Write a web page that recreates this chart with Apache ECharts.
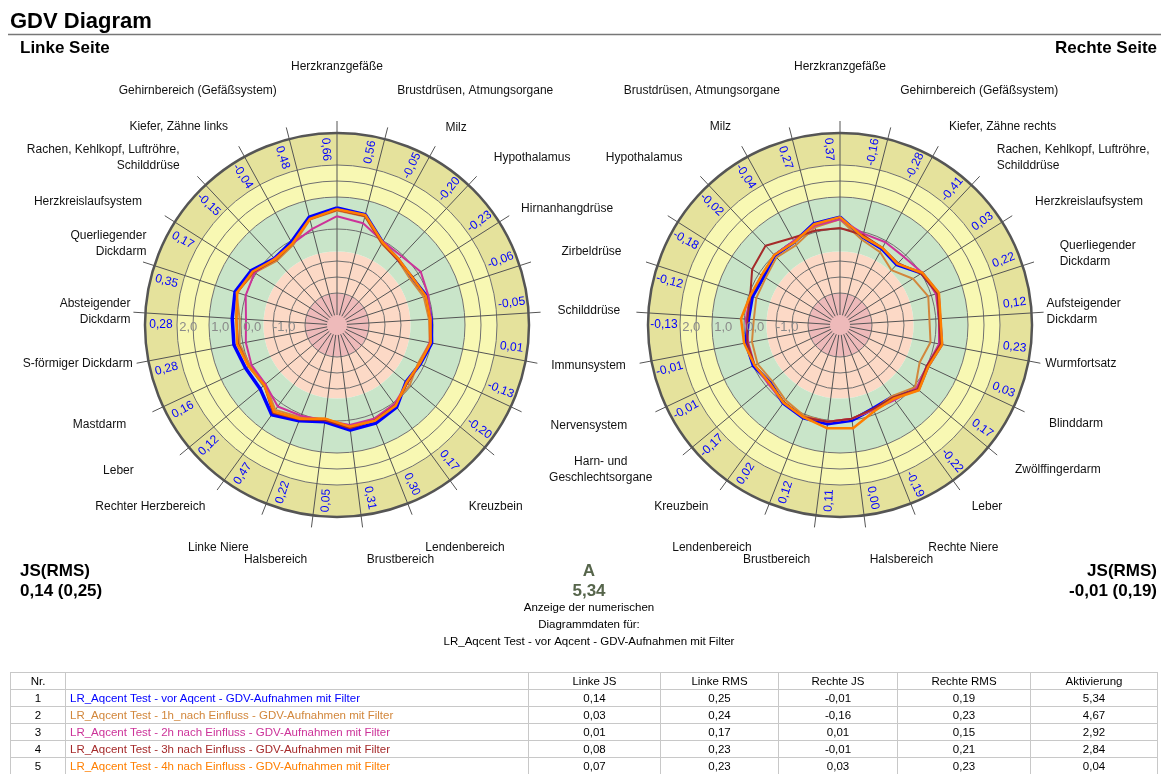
<!DOCTYPE html>
<html>
<head>
<meta charset="utf-8">
<title>GDV Diagram</title>
<script src="https://cdn.jsdelivr.net/npm/echarts@6/dist/echarts.min.js"></script>
<style>
  html, body { margin: 0; padding: 0; background: #fff; }
  #chart { position: absolute; left: 0; top: 0; width: 1161px; height: 774px; }
  #tbl { position: absolute; left: 10px; top: 672px; border-collapse: collapse;
         font: 11.5px "Liberation Sans", Arial, sans-serif; table-layout: fixed; }
  #tbl td { border: 1px solid #c8c8c8; height: 16px; padding: 0 4px; text-align: center;
            white-space: nowrap; overflow: hidden; line-height: 15px; }
  #tbl td.name { text-align: left; }
</style>
</head>
<body>
<div id="chart"></div>
<table id="tbl"></table>
<script>
// organ labels per spoke, clockwise from top ('' = no label on that side)
const leftLabels = ['Herzkranzgefäße', 'Brustdrüsen, Atmungsorgane', 'Milz', 'Hypothalamus',
  'Hirnanhangdrüse', 'Zirbeldrüse', 'Schilddrüse', 'Immunsystem', 'Nervensystem',
  'Harn- und\nGeschlechtsorgane', 'Kreuzbein', 'Lendenbereich', 'Brustbereich', 'Halsbereich',
  'Linke Niere', 'Rechter Herzbereich', 'Leber', 'Mastdarm', 'S-förmiger Dickdarm',
  'Absteigender\nDickdarm', 'Querliegender\nDickdarm', 'Herzkreislaufsystem',
  'Rachen, Kehlkopf, Luftröhre,\nSchilddrüse', 'Kiefer, Zähne links', 'Gehirnbereich (Gefäßsystem)'];
const rightLabels = ['Herzkranzgefäße', 'Gehirnbereich (Gefäßsystem)', 'Kiefer, Zähne rechts',
  'Rachen, Kehlkopf, Luftröhre,\nSchilddrüse', 'Herzkreislaufsystem', 'Querliegender\nDickdarm',
  'Aufsteigender\nDickdarm', 'Wurmfortsatz', 'Blinddarm', 'Zwölffingerdarm', 'Leber',
  'Rechte Niere', 'Halsbereich', 'Brustbereich', 'Lendenbereich', 'Kreuzbein',
  '', '', '', '', '', '', 'Hypothalamus', 'Milz', 'Brustdrüsen, Atmungsorgane'];

const seriesNames = [
  'LR_Aqcent Test - vor Aqcent - GDV-Aufnahmen mit Filter',
  'LR_Aqcent Test - 1h_nach Einfluss - GDV-Aufnahmen mit Filter',
  'LR_Aqcent Test - 2h nach Einfluss - GDV-Aufnahmen mit Filter',
  'LR_Aqcent Test - 3h nach Einfluss - GDV-Aufnahmen mit Filter',
  'LR_Aqcent Test - 4h nach Einfluss - GDV-Aufnahmen mit Filter'];
const seriesColors = ['#0000ff', '#d2873c', '#cc3399', '#a52a2a', '#ff7f00'];
const seriesWidths = [3.5, 2, 2, 2, 2.5];

// left side, clockwise from top
const left1 = [0.66, 0.56, -0.05, -0.20, -0.23, -0.06, -0.05, 0.01, -0.13, -0.20, 0.17, 0.30, 0.31,
  0.05, 0.22, 0.47, 0.12, 0.16, 0.28, 0.28, 0.35, 0.17, -0.15, -0.04, 0.48];
const left2 = [0.58, 0.50, -0.10, -0.22, -0.30, -0.15, -0.12, -0.05, -0.20, -0.05, 0.05, 0.15, 0.20,
  -0.05, 0.10, 0.28, -0.10, 0.00, 0.10, 0.05, 0.30, 0.05, -0.25, -0.15, 0.40];
const left3 = [0.40, 0.28, -0.02, -0.05, 0.10, 0.00, -0.05, -0.05, -0.15, -0.15, 0.05, 0.15, 0.15,
  0.00, 0.05, 0.15, -0.10, -0.05, -0.10, -0.15, 0.00, 0.05, -0.15, -0.10, 0.10];
const left4 = [0.60, 0.52, -0.08, -0.22, -0.20, -0.08, -0.08, -0.02, -0.15, -0.15, 0.10, 0.20, 0.25,
  0.00, 0.18, 0.40, -0.05, 0.05, 0.15, 0.15, 0.28, 0.10, -0.20, -0.10, 0.42];
const left5 = [0.62, 0.55, -0.05, -0.18, -0.22, -0.08, -0.08, -0.02, -0.15, -0.18, 0.12, 0.22, 0.20,
  -0.05, 0.15, 0.35, -0.05, 0.05, 0.18, 0.15, 0.28, 0.12, -0.18, -0.10, 0.42];

// right side, clockwise from top
const right1 = [0.37, -0.16, -0.28, -0.41, 0.03, 0.22, 0.12, 0.23, 0.03, 0.17, -0.22, -0.19, 0.00,
  0.11, 0.12, 0.02, -0.17, -0.01, -0.01, -0.13, -0.12, -0.18, -0.02, -0.04, 0.27];
const right2 = [0.30, -0.25, -0.40, -0.65, -0.30, -0.10, -0.20, -0.12, -0.25, 0.05, -0.25, -0.15, -0.05,
  0.05, 0.05, -0.10, -0.25, -0.15, -0.20, -0.30, -0.25, -0.25, -0.10, -0.15, 0.15];
const right3 = [0.30, -0.05, -0.05, -0.08, 0.05, 0.15, 0.10, 0.15, 0.00, 0.10, -0.10, -0.15, -0.05,
  0.05, 0.10, 0.00, -0.10, -0.05, -0.08, -0.05, -0.05, -0.10, 0.00, 0.00, 0.20];
const right4 = [0.03, -0.10, -0.25, -0.35, 0.00, 0.20, 0.10, 0.20, 0.00, 0.15, -0.20, -0.18, -0.05,
  0.05, 0.10, -0.02, -0.15, -0.05, -0.05, -0.10, -0.05, 0.25, 0.40, 0.10, 0.05];
const right5 = [0.37, -0.15, -0.25, -0.38, 0.05, 0.25, 0.15, 0.25, 0.05, 0.20, -0.15, -0.10, 0.25,
  0.25, 0.10, 0.00, -0.15, -0.05, 0.05, 0.10, -0.05, -0.10, 0.00, -0.05, 0.25];

const leftSeries = [left1, left2, left3, left4, left5];
const rightSeries = [right1, right2, right3, right4, right5];

const linkeJS = [0.14, 0.03, 0.01, 0.08, 0.07];
const linkeRMS = [0.25, 0.24, 0.17, 0.23, 0.23];
const rechteJS = [-0.01, -0.16, 0.01, -0.01, 0.03];
const rechteRMS = [0.19, 0.23, 0.15, 0.21, 0.23];
const aktivierung = [5.34, 4.67, 2.92, 2.84, 0.04];

const scaleTicks = [2, 1, 0, -1];
const gridCircles = [-2, -1.5, -1, 0, 1, 1.5, 2];
const bandEdges = [-3, -2, -0.7, 1, 2, 3];
const bandColors = ['#eebaba', '#fcd9c6', '#c9e5c9', '#f8f8b3', '#e5e29c'];

// label layout (pixel distance from centre, angle nudges in degrees, alignment overrides)
const leftLabelR = [258, 242, 225, 229, 218, 236, 221, 218, 236, 301, 224, 240, 237, 237, 240, 224,
  250, 233, 208, 207, 207, 231, 230, 226, 242];
const leftLabelNudge = { 9: -10.8, 16: 4, 20: 5 };
const leftLabelAlign = { 9: 'center' };
const rightLabelR = [258, 242, 226, 229, 231, 231, 207, 209, 231, 227, 224, 240, 237, 237, 240, 224,
  0, 0, 0, 0, 0, 0, 230, 226, 242];
const rightLabelNudge = {};
const rightLabelAlign = {};

const N = 25;
const STEP = 360 / N;
const FONT = '"Liberation Sans", Arial, sans-serif';
const fmt = v => v.toFixed(2).replace('.', ',');

function pixelRadius(api, cs, v) {
  const p = api.coord([v, 0]);
  return Math.hypot(p[0] - cs.cx, p[1] - cs.cy);
}

function backgroundSeries(pi) {
  return {
    type: 'custom', coordinateSystem: 'polar', polarIndex: pi, silent: true, z: 1,
    data: [[0, 0]],
    renderItem(params, api) {
      const cs = params.coordSys;
      const cx = cs.cx, cy = cs.cy;
      const children = [];
      for (let i = 0; i < bandColors.length; i++) {
        children.push({
          type: 'sector',
          shape: { cx, cy, r0: pixelRadius(api, cs, bandEdges[i]), r: pixelRadius(api, cs, bandEdges[i + 1]),
                   startAngle: 0, endAngle: Math.PI * 2 },
          style: { fill: bandColors[i] }
        });
      }
      gridCircles.forEach(v => {
        children.push({ type: 'circle', shape: { cx, cy, r: pixelRadius(api, cs, v) },
                        style: { fill: null, stroke: '#707070', lineWidth: 1 } });
      });
      const outer = pixelRadius(api, cs, 3);
      for (let k = 0; k < N; k++) {
        const a = k * STEP * Math.PI / 180;
        const s = Math.sin(a), c = Math.cos(a);
        children.push({ type: 'line',
          shape: { x1: cx + 10 * s, y1: cy - 10 * c, x2: cx + (outer + 12) * s, y2: cy - (outer + 12) * c },
          style: { stroke: '#555', lineWidth: 1 } });
      }
      children.push({ type: 'circle', shape: { cx, cy, r: outer },
                      style: { fill: null, stroke: '#555', lineWidth: 2.5 } });
      return { type: 'group', children };
    }
  };
}

function ringNumberSeries(pi, values) {
  return {
    type: 'custom', coordinateSystem: 'polar', polarIndex: pi, silent: true, z: 4,
    data: values.map((v, k) => [v, k * STEP]),
    renderItem(params, api) {
      const cs = params.coordSys;
      const k = params.dataIndex;
      let deg = k * STEP - 3.6;
      if (deg < 0) deg += 360;
      const a = deg * Math.PI / 180;
      const r = pixelRadius(api, cs, 2.5);
      const rot = deg < 180 ? 90 - deg : 270 - deg;
      return {
        type: 'text', x: cs.cx + r * Math.sin(a), y: cs.cy - r * Math.cos(a),
        rotation: rot * Math.PI / 180,
        style: { text: fmt(values[k]), fill: '#0000ff', font: '12px ' + FONT,
                 align: 'center', verticalAlign: 'middle', textAlign: 'center', textVerticalAlign: 'middle' }
      };
    }
  };
}

function scaleTickSeries(pi) {
  return {
    type: 'custom', coordinateSystem: 'polar', polarIndex: pi, silent: true, z: 4,
    data: scaleTicks.map(v => [v, 270]),
    renderItem(params, api) {
      const cs = params.coordSys;
      const v = scaleTicks[params.dataIndex];
      const r = pixelRadius(api, cs, v - 0.35);
      return {
        type: 'text', x: cs.cx - r, y: cs.cy + 2,
        style: { text: v.toFixed(1).replace('.', ','), fill: '#8a8a8a', font: '13px ' + FONT,
                 align: 'center', verticalAlign: 'middle', textAlign: 'center', textVerticalAlign: 'middle' }
      };
    }
  };
}

function labelSeries(pi, names, radii, nudges, aligns) {
  return {
    type: 'custom', coordinateSystem: 'polar', polarIndex: pi, silent: true, z: 4,
    data: names.map((n, k) => [0, k * STEP]),
    renderItem(params, api) {
      const cs = params.coordSys;
      const k = params.dataIndex;
      const text = names[k];
      if (!text) return;
      const deg = k * STEP + (nudges[k] || 0);
      const a = deg * Math.PI / 180;
      const r = radii[k];
      const align = aligns[k] ||
        ((deg < 1 || Math.abs(deg - 180) < 1) ? 'center' : (deg < 180 ? 'left' : 'right'));
      return {
        type: 'text', x: cs.cx + r * Math.sin(a), y: cs.cy - r * Math.cos(a),
        style: { text, fill: '#111', font: '12px ' + FONT, lineHeight: 16,
                 align, verticalAlign: 'middle', textAlign: align, textVerticalAlign: 'middle' }
      };
    }
  };
}

function lineSeries(pi, sets) {
  return sets.map((vals, i) => ({
    name: seriesNames[i],
    type: 'line', coordinateSystem: 'polar', polarIndex: pi, z: 3,
    symbol: 'none', silent: true,
    lineStyle: { color: seriesColors[i], width: seriesWidths[i] },
    data: vals.map((v, k) => [v, k * STEP]).concat([[vals[0], 360]])
  }));
}

function txt(x, y, text, font, align, fill) {
  return { type: 'text', x, y,
    style: { text, font, fill: fill || '#000', align, verticalAlign: 'middle',
             textAlign: align, textVerticalAlign: 'middle' } };
}

const chart = echarts.init(document.getElementById('chart'));
chart.setOption({
  animation: false,
  polar: [
    { center: [337, 325], radius: 192 },
    { center: [840, 325], radius: 192 }
  ],
  angleAxis: [0, 1].map(pi => ({
    polarIndex: pi, type: 'value', min: 0, max: 360, startAngle: 90, clockwise: true, show: false
  })),
  radiusAxis: [0, 1].map(pi => ({
    polarIndex: pi, type: 'value', min: -3, max: 3, show: false
  })),
  graphic: [
    txt(10, 22, 'GDV Diagram', 'bold 22px ' + FONT, 'left'),
    { type: 'line', shape: { x1: 8, y1: 34.5, x2: 1161, y2: 34.5 }, style: { stroke: '#777', lineWidth: 1.5 } },
    txt(20, 48, 'Linke Seite', 'bold 17px ' + FONT, 'left'),
    txt(1157, 48, 'Rechte Seite', 'bold 17px ' + FONT, 'right'),
    txt(20, 571, 'JS(RMS)', 'bold 17px ' + FONT, 'left'),
    txt(20, 591, fmt(linkeJS[0]) + ' (' + fmt(linkeRMS[0]) + ')', 'bold 17px ' + FONT, 'left'),
    txt(1157, 571, 'JS(RMS)', 'bold 17px ' + FONT, 'right'),
    txt(1157, 591, fmt(rechteJS[0]) + ' (' + fmt(rechteRMS[0]) + ')', 'bold 17px ' + FONT, 'right'),
    txt(589, 571, 'A', 'bold 17px ' + FONT, 'center', '#56654b'),
    txt(589, 591, fmt(aktivierung[0]), 'bold 17px ' + FONT, 'center', '#56654b'),
    txt(589, 608, 'Anzeige der numerischen', '11.5px ' + FONT, 'center'),
    txt(589, 625, 'Diagrammdaten für:', '11.5px ' + FONT, 'center'),
    txt(589, 642, seriesNames[0], '11.5px ' + FONT, 'center')
  ],
  series: [
    backgroundSeries(0), backgroundSeries(1),
    ...lineSeries(0, leftSeries), ...lineSeries(1, rightSeries),
    ringNumberSeries(0, left1), ringNumberSeries(1, right1),
    scaleTickSeries(0), scaleTickSeries(1),
    labelSeries(0, leftLabels, leftLabelR, leftLabelNudge, leftLabelAlign),
    labelSeries(1, rightLabels, rightLabelR, rightLabelNudge, rightLabelAlign)
  ]
});

// numeric table below the diagrams
const colWidths = [55, 463, 132, 118, 119, 133, 127];
const tbl = document.getElementById('tbl');
const cg = document.createElement('colgroup');
colWidths.forEach(w => { const c = document.createElement('col'); c.style.width = w + 'px'; cg.appendChild(c); });
tbl.appendChild(cg);
function addRow(cells, color) {
  const tr = document.createElement('tr');
  cells.forEach((t, i) => {
    const td = document.createElement('td');
    td.textContent = t;
    if (i === 1) { td.className = 'name'; if (color) td.style.color = color; }
    tr.appendChild(td);
  });
  tbl.appendChild(tr);
}
addRow(['Nr.', '', 'Linke JS', 'Linke RMS', 'Rechte JS', 'Rechte RMS', 'Aktivierung']);
seriesNames.forEach((n, i) => {
  addRow([String(i + 1), n, fmt(linkeJS[i]), fmt(linkeRMS[i]), fmt(rechteJS[i]), fmt(rechteRMS[i]),
          fmt(aktivierung[i])], seriesColors[i]);
});
</script>
</body>
</html>
